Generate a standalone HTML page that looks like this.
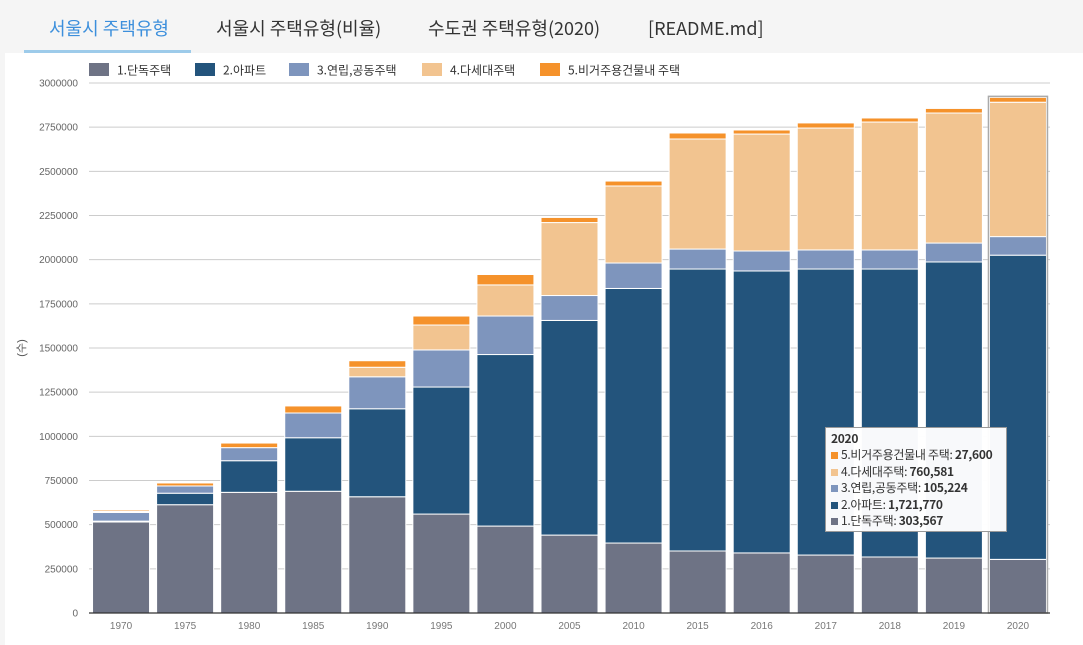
<!DOCTYPE html>
<html><head><meta charset="utf-8"><style>
body{margin:0;width:1083px;height:645px;background:#f5f5f5;font-family:"Liberation Sans","Noto Sans CJK KR",sans-serif;overflow:hidden;position:relative}
.tab{position:absolute;top:15px;font-size:18px;color:#333;white-space:nowrap;font-family:"Noto Sans CJK KR","Liberation Sans",sans-serif}
#panel{position:absolute;left:5px;top:53px;width:1078px;height:592px;background:#fff}
#tip{position:absolute;left:825px;top:427px;width:182px;height:105px;background:rgba(255,255,255,.97);border:1px solid #999;box-sizing:border-box;padding:3px 5px;font-size:12px;color:#333;line-height:16.4px;white-space:nowrap;letter-spacing:-0.3px;font-family:"Noto Sans CJK KR","Liberation Sans",sans-serif}
#tip .sq{display:inline-block;width:7px;height:7px;margin-right:3px}
</style></head><body>
<div class="tab" style="left:49px;color:#3c8fdc">서울시 주택유형</div>
<div style="position:absolute;left:24px;top:50px;width:167px;height:3px;background:#9dcbea"></div>
<div class="tab" style="left:216px">서울시 주택유형(비율)</div>
<div class="tab" style="left:428px">수도권 주택유형(2020)</div>
<div class="tab" style="left:648px">[README.md]</div>
<div id="panel"></div>
<svg id="chart" width="1083" height="645" style="position:absolute;left:0;top:0"></svg>
<div id="tip">
<b>2020</b><br>
<span class="sq" style="background:#f5922b"></span>5.비거주용건물내 주택: <b>27,600</b><br>
<span class="sq" style="background:#f2c490"></span>4.다세대주택: <b>760,581</b><br>
<span class="sq" style="background:#7e95bd"></span>3.연립,공동주택: <b>105,224</b><br>
<span class="sq" style="background:#23547c"></span>2.아파트: <b>1,721,770</b><br>
<span class="sq" style="background:#6e7385"></span>1.단독주택: <b>303,567</b>
</div>
<script>
const years=["1970","1975","1980","1985","1990","1995","2000","2005","2010","2015","2016","2017","2018","2019","2020"];
const seriesNames=["1.단독주택","2.아파트","3.연립,공동주택","4.다세대주택","5.비거주용건물내 주택"];
const colors=["#6e7385","#23547c","#7e95bd","#f2c490","#f5922b"];
const detached=[515000,613000,683000,689000,658000,560000,492000,441000,396000,351000,340000,328000,317000,311000,303567];
const apartment=[5000,65000,179000,303000,498000,719000,971000,1215000,1441000,1596000,1596000,1619000,1630000,1676000,1721770];
const rowhouse=[49000,41000,74000,140000,181000,210000,218000,141000,144000,113000,113000,108000,108000,107000,105224];
const multiplex=[6000,0,0,0,54000,141000,176000,413000,436000,623000,662000,690000,724000,736000,760581];
const nonres=[8000,17000,26000,40000,37000,51000,59000,29000,28000,34000,23000,29000,23000,26000,27600];
const yTicks=[0,250000,500000,750000,1000000,1250000,1500000,1750000,2000000,2250000,2500000,2750000,3000000];
const series=[detached,apartment,rowhouse,multiplex,nonres];
const svg=document.getElementById('chart');const NS='http://www.w3.org/2000/svg';
const X0=89,X1=1050,Y0=613,Y1=83,YMAX=3000000;
const band=(X1-X0)/years.length,bw=57;
const y=v=>Y0-v/YMAX*(Y0-Y1);
const xc=i=>X0+band*(i+0.5);
function mk(t,a,txt){const e=document.createElementNS(NS,t);for(const k in a)e.setAttribute(k,a[k]);if(txt!=null)e.textContent=txt;svg.appendChild(e);return e;}
yTicks.forEach(v=>{
 const l=mk('line',{x1:X0,x2:X1,y1:y(v),y2:y(v),stroke:'#ccc','stroke-width':1});
 
 
 const t=mk('text',{x:78,y:y(v)+3.5,'text-anchor':'end','font-size':10,fill:'#666','font-family':'Liberation Sans, sans-serif'},String(v));
 
 
});
years.forEach((yr,i)=>{
 let cum=0;
 series.forEach((s,k)=>{
  const v=s[i];if(v<=0)return;
  const r=mk('rect',{x:xc(i)-bw/2,y:y(cum+v),width:bw,height:y(cum)-y(cum+v),fill:colors[k],stroke:'#fff','stroke-width':1});
  
  
  cum+=v;
 });
 const t=mk('text',{x:xc(i),y:629,'text-anchor':'middle','font-size':10,fill:'#777','font-family':'Liberation Sans, sans-serif'},yr);
 
 
});
const hi=years.length-1;let tot=0;series.forEach(s=>tot+=s[hi]);
const h=mk('rect',{x:xc(hi)-bw/2-1,y:y(tot)-1,width:bw+2,height:Y0-y(tot)+1,fill:'none',stroke:'#aaa','stroke-width':1.5});


const ax=mk('line',{x1:X0,x2:X1,y1:Y0,y2:Y0,stroke:'#333','stroke-width':1.3});


const yt=mk('text',{x:0,y:0,transform:'translate(25,348) rotate(-90)','text-anchor':'middle','font-size':11,fill:'#555','font-family':'Liberation Sans, Noto Sans CJK KR, sans-serif'},'(수)');


const lx=[89,195,289,422,540];
seriesNames.forEach((n,k)=>{
 const g=document.createElementNS(NS,'g');svg.appendChild(g);
 
 
 const r=document.createElementNS(NS,'rect');r.setAttribute('x',lx[k]);r.setAttribute('y',63);r.setAttribute('width',20);r.setAttribute('height',13);r.setAttribute('fill',colors[k]);g.appendChild(r);
 const t=document.createElementNS(NS,'text');t.setAttribute('x',lx[k]+28);t.setAttribute('y',74.5);t.setAttribute('font-size',12);t.setAttribute('fill','#333');t.setAttribute('font-family','Noto Sans CJK KR, Liberation Sans, sans-serif');t.textContent=n;g.appendChild(t);
});
</script>
</body></html>
